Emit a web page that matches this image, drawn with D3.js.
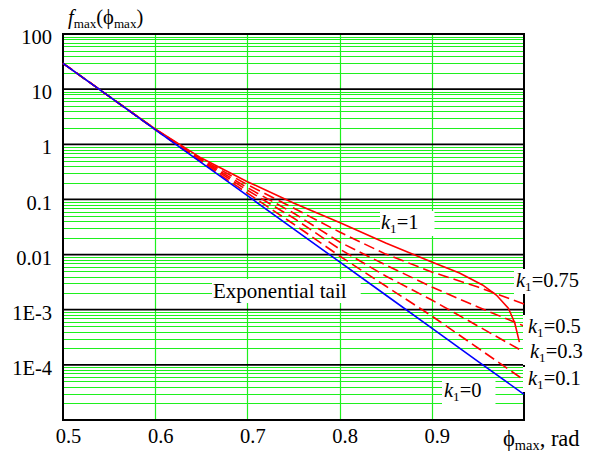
<!DOCTYPE html>
<html>
<head>
<meta charset="utf-8">
<script src="https://cdn.jsdelivr.net/npm/d3@7"></script>
<style>
body { margin: 0; background: #fff; }
text { font-family: "Liberation Serif", "Times New Roman", serif; }
</style>
</head>
<body>
<script>
// Values
var phiGrid = [0.5, 0.55, 0.6, 0.65, 0.7, 0.75, 0.8, 0.85, 0.9, 0.95, 1.0];
// exponential tail, k1 = 0
var fTail = [29.4, 7.40, 1.85, 0.466, 0.117, 0.0293, 0.00736, 0.00185, 4.64e-4, 1.16e-4, 2.92e-5];
// dashed curves
var fK010 = [29.4, 7.40, 1.855, 0.475, 0.130, 0.0358, 0.00942, 0.00269, 7.69e-4, 2.02e-4, 5.31e-5];
var fK030 = [29.4, 7.40, 1.86, 0.495, 0.147, 0.0460, 0.0126, 0.00408, 0.00150, 5.06e-4, 1.71e-4];
var fK050 = [29.4, 7.40, 1.87, 0.516, 0.163, 0.0567, 0.0169, 0.00647, 0.00258, 0.00112, 5.06e-4];
var fK075 = [29.4, 7.40, 1.88, 0.538, 0.185, 0.0699, 0.0256, 0.0102, 0.00483, 0.00258, 0.00127];
// solid curve k1 = 1, which bends down near the end
var phiK1 = [0.5, 0.55, 0.6, 0.65, 0.7, 0.75, 0.8, 0.85, 0.9, 0.93, 0.955, 0.97, 0.983, 0.99, 0.995];
var fK100 = [29.4, 7.40, 1.90, 0.562, 0.210, 0.0861, 0.0381, 0.0162, 0.00733, 0.00463, 0.00281, 0.00185, 0.00107, 5.74e-4, 2.59e-4];

// Tick labels
var xTicks = [0.5, 0.6, 0.7, 0.8, 0.9];
var xTickLabels = ["0.5", "0.6", "0.7", "0.8", "0.9"];
var yTicks = [100, 10, 1, 0.1, 0.01, 1e-3, 1e-4];
var yTickLabels = ["100", "10", "1", "0.1", "0.01", "1E-3", "1E-4"];

// Define Margin
var margin = {left: 63, right: 69, top: 34, bottom: 32},
    width = 593 - margin.left - margin.right,
    height = 452 - margin.top - margin.bottom;

var svg = d3.select("body")
    .append("svg")
    .attr("width", 593)
    .attr("height", 452);

var g = svg.append("g")
    .attr("transform", `translate(${margin.left}, ${margin.top})`);

// Scales
var x = d3.scaleLinear().domain([0.5, 1.0]).range([0, width]);
var y = d3.scaleLog().domain([1e-5, 100]).range([height, 0]);

var FONT = 20.5;

// layers
var gridLayer = g.append("g");
var frameLayer = g.append("g");
var boxLayer = svg.append("g");
var lineLayer = g.append("g");
var textLayer = svg.append("g");

// green minor grid (2..9 of each decade)
var minor = y.ticks().filter(d => Math.abs(Math.log10(d) - Math.round(Math.log10(d))) > 1e-6);
gridLayer.selectAll(".hminor")
    .data(minor)
    .enter().append("line")
    .attr("x1", 0).attr("x2", width)
    .attr("y1", d => Math.round(y(d)) + 0.5)
    .attr("y2", d => Math.round(y(d)) + 0.5)
    .attr("stroke", "#1ef01e")
    .attr("stroke-width", 1);

gridLayer.selectAll(".vgrid")
    .data(xTicks.slice(1))
    .enter().append("line")
    .attr("x1", d => Math.round(x(d)) + 0.5)
    .attr("x2", d => Math.round(x(d)) + 0.5)
    .attr("y1", 0).attr("y2", height)
    .attr("stroke", "#1ef01e")
    .attr("stroke-width", 1.2);

// black decade lines
gridLayer.selectAll(".decade")
    .data(yTicks.slice(1))
    .enter().append("line")
    .attr("x1", 0).attr("x2", width)
    .attr("y1", d => y(d))
    .attr("y2", d => y(d))
    .attr("stroke", "#000")
    .attr("stroke-width", 1.8);

// frame
frameLayer.append("rect")
    .attr("x", 0).attr("y", 0)
    .attr("width", width).attr("height", height)
    .attr("fill", "none")
    .attr("stroke", "#000")
    .attr("stroke-width", 2);

// axes (labels only)
var xAxis = g.append("g")
    .attr("transform", `translate(0, ${height})`)
    .call(d3.axisBottom(x)
        .tickValues(xTicks)
        .tickFormat((d, i) => xTickLabels[i])
        .tickSize(0)
        .tickPadding(8));
xAxis.select(".domain").remove();
xAxis.attr("font-family", null).attr("font-size", FONT);
xAxis.selectAll("text").attr("dx", 5).attr("fill", "#000");

var yAxis = g.append("g")
    .call(d3.axisLeft(y)
        .tickValues(yTicks)
        .tickFormat((d, i) => yTickLabels[i])
        .tickSize(0)
        .tickPadding(11));
yAxis.select(".domain").remove();
yAxis.attr("font-family", null).attr("font-size", FONT);
yAxis.selectAll("text").attr("dy", "0.47em").attr("fill", "#000");

// curves
var line = d3.line()
    .x(d => x(d[0]))
    .y(d => y(d[1]));

var series = [
    {phi: phiK1, f: fK100, dash: null},
    {phi: phiGrid, f: fK075, dash: "11,5"},
    {phi: phiGrid, f: fK050, dash: "11,5"},
    {phi: phiGrid, f: fK030, dash: "11,5"},
    {phi: phiGrid, f: fK010, dash: "11,5"}
];

lineLayer.selectAll(".red")
    .data(series)
    .enter().append("path")
    .attr("d", s => line(s.phi.map((p, i) => [p, s.f[i]])))
    .attr("fill", "none")
    .attr("stroke", "#ff0000")
    .attr("stroke-width", 1.6)
    .attr("stroke-dasharray", s => s.dash);

lineLayer.append("path")
    .attr("d", line(phiGrid.map((p, i) => [p, fTail[i]])))
    .attr("fill", "none")
    .attr("stroke", "#0000ff")
    .attr("stroke-width", 1.6);

// rich text helper: italic and subscript pieces
function richText(sel, parts, size) {
    var prevSub = false;
    parts.forEach(function(p) {
        var t = sel.append("tspan").text(p.t);
        if (p.i) t.attr("font-style", "italic");
        if (p.sub) {
            t.attr("font-size", size * 0.64).attr("dy", 4);
            prevSub = true;
        } else if (prevSub) {
            t.attr("dy", -4);
            prevSub = false;
        }
    });
}

function kParts(v) {
    return [{t: "k", i: true}, {t: "1", sub: true}, {t: "=" + v}];
}

// annotations: x, baseline y, parts, white box, left/right pad
var notes = [
    {x: 68, y: 24, size: FONT, parts: [{t: "f", i: true}, {t: "max", sub: true}, {t: "(ϕ"}, {t: "max", sub: true}, {t: ")"}], box: false},
    {x: 503, y: 446, size: 22.5, parts: [{t: "ϕ"}, {t: "max", sub: true}, {t: ", rad"}], box: false},
    {x: 381, y: 229, size: FONT, parts: kParts("1"), box: true, pl: 1, pr: 16},
    {x: 516, y: 287, size: FONT, parts: kParts("0.75"), box: true, pl: 2, pr: 10},
    {x: 528, y: 333, size: FONT, parts: kParts("0.5"), box: true, pl: 5, pr: 10},
    {x: 530, y: 358, size: FONT, parts: kParts("0.3"), box: true, pl: 7, pr: 10},
    {x: 528, y: 385, size: FONT, parts: kParts("0.1"), box: true, pl: 5, pr: 10},
    {x: 444, y: 397, size: FONT, parts: kParts("0"), box: true, pl: 2, pr: 14},
    {x: 213, y: 298, size: 21, parts: [{t: "Exponential tail"}], box: true, pl: 1, pr: 14}
];

notes.forEach(function(n) {
    var t = textLayer.append("text")
        .attr("x", n.x)
        .attr("y", n.y)
        .attr("font-size", n.size)
        .attr("fill", "#000");
    richText(t, n.parts, n.size);
    if (n.box) {
        var bb = t.node().getBBox();
        boxLayer.append("rect")
            .attr("x", bb.x - n.pl)
            .attr("y", bb.y)
            .attr("width", bb.width + n.pl + n.pr)
            .attr("height", bb.height)
            .attr("fill", "#fff");
    }
});
</script>
</body>
</html>
